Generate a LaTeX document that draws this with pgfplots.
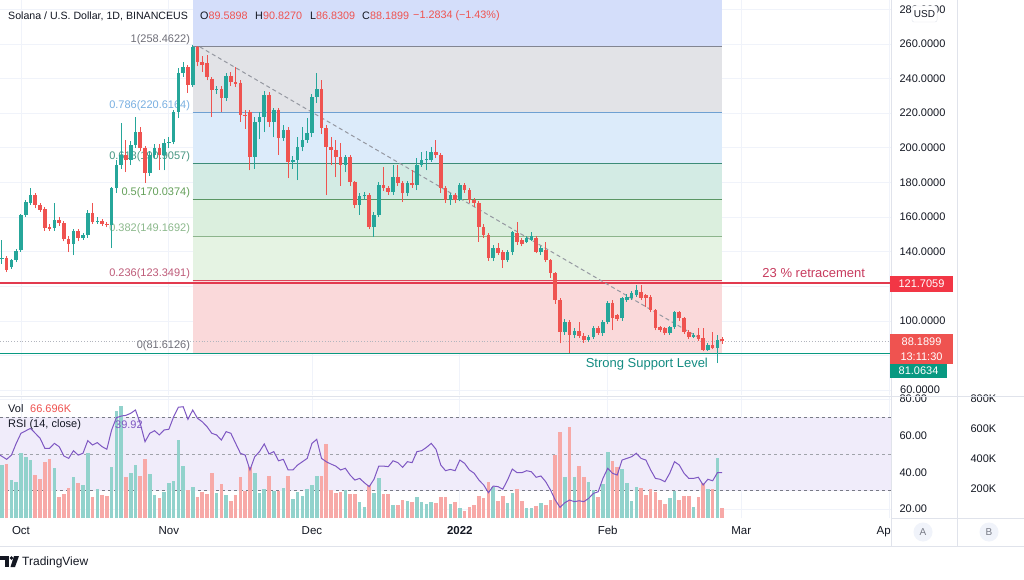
\documentclass[border=0pt]{standalone}
\usepackage{fontspec}
\setmainfont{Liberation Sans}
\usepackage{pgfplots}
\pgfplotsset{compat=1.18}
\usepackage{pgfplotstable}

\definecolor{upc}{RGB}{38,166,154}
\definecolor{dnc}{RGB}{239,83,80}
\definecolor{upv}{RGB}{146,210,204}
\definecolor{dnv}{RGB}{247,169,167}
\definecolor{txt}{RGB}{19,23,34}
\definecolor{gridc}{RGB}{240,243,250}
\definecolor{sepc}{RGB}{224,227,235}
\definecolor{rsic}{RGB}{126,87,194}
\definecolor{rsiband}{RGB}{240,236,250}
\definecolor{fibtop}{RGB}{212,222,250}
\definecolor{fibgray}{RGB}{226,227,231}
\definecolor{fibblue}{RGB}{220,235,250}
\definecolor{fibteal}{RGB}{211,235,228}
\definecolor{fibgreen}{RGB}{219,239,222}
\definecolor{fiblgreen}{RGB}{229,243,227}
\definecolor{fibpink}{RGB}{250,217,218}
\definecolor{lone}{RGB}{130,133,145}
\definecolor{lsev}{RGB}{110,160,210}
\definecolor{lsix}{RGB}{60,140,120}
\definecolor{lfive}{RGB}{90,150,100}
\definecolor{lthree}{RGB}{140,180,140}
\definecolor{ltwo}{RGB}{220,70,90}
\definecolor{tlone}{RGB}{110,110,120}
\definecolor{tlsev}{RGB}{120,175,225}
\definecolor{tlsix}{RGB}{70,150,130}
\definecolor{tlfive}{RGB}{100,160,90}
\definecolor{tlthree}{RGB}{140,185,140}
\definecolor{tltwo}{RGB}{190,90,120}
\definecolor{myredln}{RGB}{226,58,78}
\definecolor{mysuppln}{RGB}{8,153,129}
\definecolor{retxt}{RGB}{200,60,95}
\definecolor{sutxt}{RGB}{20,140,130}
\definecolor{tagred}{RGB}{242,54,69}
\definecolor{trendc}{RGB}{149,152,161}
\definecolor{dotc}{RGB}{178,181,190}
\definecolor{abc}{RGB}{120,123,134}

\pgfplotstableread{
d o h l c v
-4 135.5 147.0 133.0 136.5 356
-3 136.3 137.5 128.2 129.4 363
-2 131.1 136.0 130.0 135.2 255
-1 135.2 141.5 134.0 140.4 244
0 141.0 162.0 140.0 161.2 437
1 161.2 170.0 160.0 168.7 412
2 168.1 177.0 167.0 172.7 390
3 172.7 174.0 165.0 166.9 289
4 166.9 168.0 163.0 164.1 262
5 164.6 166.0 152.0 153.6 379
6 154.2 156.0 152.0 153.1 397
7 153.6 168.0 152.0 158.3 338
8 158.3 160.0 155.0 156.5 141
9 156.5 158.0 146.0 147.3 161
10 147.3 149.0 139.8 144.4 202
11 144.4 153.0 138.0 151.9 278
12 151.9 153.0 146.0 147.9 237
13 147.9 151.0 147.0 149.6 222
14 149.6 164.0 148.0 162.3 439
15 162.3 168.1 156.0 157.1 141
16 157.1 160.0 156.0 157.7 195
17 157.7 159.0 155.0 156.0 155
18 156.0 157.0 154.0 155.4 148
19 155.4 177.5 142.1 176.8 345
20 176.8 193.0 174.0 190.1 719
21 190.1 214.3 188.0 195.8 753
22 196.0 204.5 186.0 193.0 278
23 193.0 204.0 190.0 201.6 302
24 201.6 217.8 200.0 209.1 356
25 209.1 212.0 198.0 199.9 285
26 199.9 201.0 179.7 185.4 397
27 185.4 198.0 184.0 195.8 296
28 195.8 202.0 194.0 199.9 155
29 199.9 202.0 187.2 195.8 134
30 195.8 205.0 187.0 202.8 177
31 202.8 206.0 200.0 203.6 237
32 203.4 222.0 202.0 220.7 251
33 220.7 246.0 217.2 243.2 524
34 243.2 249.6 241.0 246.7 350
35 246.7 248.0 231.7 236.3 188
36 236.3 259.5 235.0 258.3 211
37 258.3 259.0 247.0 249.6 143
38 249.6 253.0 244.0 247.9 177
39 249.0 253.6 239.0 240.9 161
40 240.0 241.0 217.8 233.4 305
41 233.4 236.0 231.0 234.0 166
42 234.0 236.0 220.7 228.8 226
43 228.8 243.0 227.0 241.5 152
44 241.5 244.0 236.0 238.0 114
45 238.0 246.7 235.0 237.0 152
46 237.5 239.0 215.0 219.0 273
47 219.0 222.0 211.0 218.5 184
48 220.7 222.0 187.0 194.7 341
49 194.7 218.0 188.0 214.9 300
50 214.9 220.7 205.0 217.8 170
51 217.8 233.0 209.0 230.5 197
52 230.5 232.0 212.0 214.9 282
53 214.9 223.0 206.0 221.9 184
54 221.9 223.0 196.0 205.7 181
55 205.7 213.0 204.0 210.3 199
56 210.3 212.0 182.5 191.8 282
57 192.0 195.0 188.0 193.0 125
58 193.0 206.0 181.4 200.5 177
59 200.5 212.0 198.0 204.5 148
60 204.5 217.0 203.0 208.6 197
61 208.6 231.0 206.0 229.4 222
62 229.4 243.2 226.0 234.0 282
63 234.0 239.2 208.0 211.4 282
64 211.4 213.0 172.7 200.5 497
65 200.5 206.0 190.0 198.7 188
66 198.7 204.5 183.0 194.7 170
67 194.7 203.0 178.0 190.1 177
68 190.1 196.0 186.0 194.7 188
69 194.7 196.0 178.0 180.2 161
70 180.2 181.0 165.0 166.9 161
71 167.0 174.0 161.2 172.1 110
72 172.0 174.5 170.0 172.7 72
73 172.7 174.0 153.0 154.2 222
74 154.2 163.0 148.5 161.2 170
75 161.2 180.5 160.0 178.5 267
76 178.5 188.9 175.0 176.8 161
77 176.8 178.0 173.0 174.5 161
78 174.5 190.0 173.0 183.1 87
79 183.1 190.0 178.0 179.7 87
80 179.7 181.0 168.7 173.9 121
81 173.9 181.0 172.0 179.7 117
82 179.7 187.2 177.0 178.5 110
83 178.5 194.0 175.6 190.1 139
84 190.1 197.6 189.0 193.0 110
85 193.0 198.0 187.0 193.5 94
86 193.0 200.5 192.0 197.6 110
87 197.6 204.5 194.0 195.8 99
88 195.8 197.0 174.0 176.8 143
89 176.8 178.0 168.0 169.8 143
90 169.8 174.0 167.0 172.7 94
91 172.7 174.0 168.1 169.8 110
92 169.8 179.5 169.0 178.5 65
93 178.5 179.5 174.0 175.6 49
94 175.6 177.0 168.0 169.8 76
95 169.8 171.0 166.0 168.1 87
96 168.1 169.0 145.6 154.2 148
97 154.2 156.0 148.0 149.6 132
98 149.6 151.0 134.6 136.3 244
99 136.3 144.0 134.6 142.1 206
100 142.1 145.0 138.0 139.2 117
101 139.8 141.0 130.5 135.2 148
102 135.2 141.0 134.0 139.8 103
103 139.8 152.0 138.0 151.3 168
104 150.8 157.1 144.0 145.6 195
105 146.7 148.0 143.0 144.4 117
106 145.6 149.0 145.0 147.9 67
107 146.7 151.3 146.0 149.0 67
108 147.9 149.0 139.0 139.8 81
109 139.8 143.0 138.0 142.1 101
110 141.0 145.6 134.0 135.2 90
111 135.2 136.0 125.0 127.6 121
112 127.6 128.5 110.0 112.0 424
113 112.0 113.0 87.0 93.5 580
114 93.5 101.0 92.0 99.3 276
115 99.3 100.5 81.4 91.8 612
116 91.8 96.0 90.0 94.1 276
117 94.1 99.3 90.0 91.2 350
118 91.2 93.0 87.5 88.9 276
119 88.9 92.0 88.0 90.6 244
120 90.6 97.0 89.5 95.8 188
121 95.8 97.0 92.0 93.0 141
122 93.0 100.5 91.5 99.3 229
123 99.3 111.5 98.0 110.3 446
124 110.3 112.0 94.7 101.6 385
125 103.4 104.0 100.0 101.0 341
126 101.6 114.0 100.0 113.2 327
127 112.0 115.5 111.0 113.8 237
128 113.2 117.0 112.0 116.1 117
129 114.9 120.7 114.0 117.8 211
130 116.7 121.0 112.0 113.2 199
131 114.9 115.5 108.0 113.2 155
132 113.8 115.0 105.0 106.3 193
133 106.3 107.0 94.5 95.8 177
134 96.4 97.0 93.5 94.7 121
135 95.8 96.5 92.0 93.0 92
136 93.0 97.0 92.0 96.4 132
137 96.4 106.0 95.5 105.1 184
138 105.1 106.0 100.0 101.6 121
139 101.6 102.5 92.5 93.5 148
140 93.5 95.0 89.5 90.6 148
141 90.6 93.0 90.0 91.8 74
142 91.8 95.8 88.5 89.5 143
143 90.0 95.8 82.5 83.1 237
144 83.1 87.0 82.5 86.0 193
145 86.0 93.5 83.5 84.3 193
146 84.3 92.0 75.6 88.9 401
147 89.59 90.83 86.83 88.19 66.7
}\candles

\pgfplotstableread{
d r
-4.4 49.4
-3 47.1
-2 49.4
-1 55.8
0 61.3
2 64.0
3 61.3
4 58.6
5 53.1
6 53.1
7 55.8
8 54.0
9 48.9
10 47.6
11 51.8
12 49.4
13 50.4
14 57.3
15 54.9
16 56.2
17 54.0
18 52.6
19 63.1
20 69.8
21 70.7
22 71.1
23 72.2
24 74.0
25 66.7
26 56.7
27 61.3
28 62.7
29 60.4
30 63.1
31 63.5
32 70.3
33 75.5
34 75.8
35 68.9
36 74.0
37 69.5
38 67.6
39 64.9
40 61.3
41 60.4
42 57.6
43 62.2
44 61.3
45 55.8
46 50.4
47 49.4
48 41.3
49 48.5
50 51.3
51 55.5
52 50.0
53 51.3
54 46.3
55 47.1
56 41.3
57 41.3
58 44.0
59 45.8
60 47.6
61 55.8
62 58.0
63 47.6
64 45.8
65 44.5
66 43.4
67 41.3
68 42.2
69 38.5
70 35.8
71 36.7
72 34.3
73 32.2
74 36.2
75 43.4
76 43.4
77 43.1
78 46.3
79 45.3
80 42.7
81 45.8
82 45.3
83 51.3
84 51.8
85 53.6
86 55.8
87 52.6
88 44.0
89 40.9
90 41.6
91 40.9
92 46.7
93 44.9
94 41.3
95 39.5
96 35.8
97 33.1
98 28.9
99 32.5
100 32.2
101 30.8
102 35.8
103 41.8
104 39.8
105 39.8
106 40.9
107 40.3
108 37.3
109 38.0
110 34.9
111 30.4
112 24.9
113 20.9
114 23.4
115 24.9
116 24.0
117 24.5
118 24.0
119 25.8
120 28.5
121 29.4
122 36.7
123 42.2
124 39.5
125 38.5
126 46.7
127 47.6
128 48.5
129 50.4
130 47.6
131 46.7
132 41.3
133 36.7
134 36.2
135 34.9
136 39.5
137 45.8
138 44.0
139 39.5
140 36.7
141 36.7
142 37.3
143 33.1
144 36.2
145 35.4
146 39.8
147 39.9
}\rsi

\pgfplotsset{
  tvbase/.style={
    scale only axis, width=891pt,
    xmin=-4.40, xmax=182.39,
    axis line style={draw=none},
    tick style={draw=none},
    major tick length=0pt,
    grid style={gridc, line width=0.8pt},
    yticklabel pos=right,
    yticklabel style={anchor=west, xshift=5pt, text=txt, font=\fontsize{11}{13}\selectfont},
    xtick={0,31,61,92,123,151,182},
  },
  upcandle/.style={restrict expr to domain={\thisrow{c}-\thisrow{o}}{0:1000}},
  dncandle/.style={restrict expr to domain={\thisrow{c}-\thisrow{o}}{-1000:-0.00001}},
}

\begin{document}
\begin{tikzpicture}[font=\fontsize{11}{13}\selectfont]
\useasboundingbox (0,0) rectangle (1024pt,579pt);
\fill[white] (0,0) rectangle (1024pt,579pt);

% ---------- main price panel ----------
\begin{axis}[tvbase,
  at={(0pt,184pt)}, anchor=south west, height=395pt,
  ymin=57.2, ymax=285.4,
  xticklabels={},
  ytick={60,80,...,280},
  yticklabels={,,100.0000,,140.0000,160.0000,180.0000,200.0000,220.0000,240.0000,260.0000,280.0000},
  xmajorgrids, ymajorgrids,
  clip=false,
]
% fib zones
\fill[fibtop]   (axis cs:36,258.4622) rectangle (axis cs:147,285.4);
\fill[fibgray]  (axis cs:36,220.6164) rectangle (axis cs:147,258.4622);
\fill[fibblue]  (axis cs:36,190.9057) rectangle (axis cs:147,220.6164);
\fill[fibteal]  (axis cs:36,170.0374) rectangle (axis cs:147,190.9057);
\fill[fibgreen] (axis cs:36,149.1692) rectangle (axis cs:147,170.0374);
\fill[fiblgreen](axis cs:36,123.3491) rectangle (axis cs:147,149.1692);
\fill[fibpink]  (axis cs:36,81.6126) rectangle (axis cs:147,123.3491);
% fib levels
\draw[draw=lone]   (axis cs:36,258.4622) -- (axis cs:147,258.4622);
\draw[draw=lsev]   (axis cs:36,220.6164) -- (axis cs:147,220.6164);
\draw[draw=lsix]   (axis cs:36,190.9057) -- (axis cs:147,190.9057);
\draw[draw=lfive]  (axis cs:36,170.0374) -- (axis cs:147,170.0374);
\draw[draw=lthree] (axis cs:36,149.1692) -- (axis cs:147,149.1692);
\draw[draw=ltwo]   (axis cs:36,123.3491) -- (axis cs:147,123.3491);
\draw[draw=lone]   (axis cs:36,81.6126) -- (axis cs:147,81.6126);
% fib labels
\begin{scope}[every node/.style={anchor=south east, inner sep=1.5pt, xshift=-1pt, font=\fontsize{11}{13}\selectfont}]
\node[text=tlone]   at (axis cs:36,258.4622) {1(258.4622)};
\node[text=tlsev]   at (axis cs:36,220.6164) {0.786(220.6164)};
\node[text=tlsix]   at (axis cs:36,190.9057) {0.618(190.9057)};
\node[text=tlfive]  at (axis cs:36,170.0374) {0.5(170.0374)};
\node[text=tlthree] at (axis cs:36,149.1692) {0.382(149.1692)};
\node[text=tltwo]   at (axis cs:36,123.3491) {0.236(123.3491)};
\node[text=tlone]   at (axis cs:36,81.6126) {0(81.6126)};
\end{scope}
% user lines
\draw[draw=myredln, line width=1.8pt] (axis cs:-4.40,121.7059) -- (axis cs:182.39,121.7059);
\draw[draw=mysuppln, line width=1.3pt] (axis cs:-4.40,81.0634) -- (axis cs:182.39,81.0634);
\draw[draw=dotc, dotted, line width=0.8pt] (axis cs:-4.40,88.1899) -- (axis cs:182.39,88.1899);
\draw[draw=trendc, dash pattern=on 4pt off 3pt, line width=1pt] (axis cs:37.5,258.3) -- (axis cs:143.4,88.3);
% candles: wicks
\addplot[upc, line width=1pt, quiver={u=0, v=\thisrow{h}-\thisrow{l}}, upcandle] table[x=d, y=l] {\candles};
\addplot[dnc, line width=1pt, quiver={u=0, v=\thisrow{h}-\thisrow{l}}, dncandle] table[x=d, y=l] {\candles};
% candles: bodies
\addplot[upc, line width=3.6pt, quiver={u=0, v=\thisrow{c}-\thisrow{o}}, upcandle] table[x=d, y=o] {\candles};
\addplot[dnc, line width=3.6pt, quiver={u=0, v=\thisrow{c}-\thisrow{o}}, dncandle] table[x=d, y=o] {\candles};
% annotations
\node[text=retxt, font=\fontsize{13}{15}\selectfont] at (axis cs:166.2,127.7) {23 \% retracement};
\node[text=sutxt, font=\fontsize{13}{15}\selectfont] at (axis cs:131.2,75.1) {Strong Support Level};
\end{axis}

% ---------- lower panel: RSI band ----------
\begin{axis}[tvbase,
  at={(0pt,61pt)}, anchor=south west, height=121pt,
  ymin=15.09, ymax=81.09,
  ytick={20,40,60,80},
  yticklabels={20.00,40.00,60.00,80.00},
  xticklabels={Oct,Nov,Dec,\textbf{2022},Feb,Mar,},
  xticklabel style={text=txt, yshift=-5pt, font=\fontsize{11.5}{13}\selectfont},
  xmajorgrids, ymajorgrids,
]
\fill[rsiband] (axis cs:-4.40,30) rectangle (axis cs:182.39,70);
\draw[draw=abc, dash pattern=on 3pt off 3pt, line width=0.8pt] (axis cs:-4.40,70) -- (axis cs:182.39,70);
\draw[draw=abc!70, dash pattern=on 3pt off 3pt, line width=0.8pt] (axis cs:-4.40,50) -- (axis cs:182.39,50);
\draw[draw=abc, dash pattern=on 3pt off 3pt, line width=0.8pt] (axis cs:-4.40,30) -- (axis cs:182.39,30);
\end{axis}

% ---------- lower panel: volume ----------
\begin{axis}[tvbase,
  at={(0pt,61pt)}, anchor=south west, height=121pt,
  ymin=0, ymax=813.4,
  ytick={200,400,600,800},
  yticklabels={200K,400K,600K,800K},
  yticklabel style={anchor=west, xshift=71pt, text=txt, font=\fontsize{11}{13}\selectfont},
  xticklabels={},
]
\addplot[ycomb, upv, line width=3.6pt, upcandle] table[x=d, y=v] {\candles};
\addplot[ycomb, dnv, line width=3.6pt, dncandle] table[x=d, y=v] {\candles};
\end{axis}

% ---------- lower panel: RSI line ----------
\begin{axis}[tvbase,
  at={(0pt,61pt)}, anchor=south west, height=121pt,
  ymin=15.09, ymax=81.09, hide axis,
]
\addplot[rsic, line width=1pt] table[x=d, y=r] {\rsi};
\end{axis}

% ---------- frame and decorations (pixel coordinates) ----------
\begin{scope}[x=1pt, y=-1pt, yshift=579pt]
% 60.0000 label, cut by the pane border as in the original
\begin{scope}
\clip (892,375) rectangle (956,395.5);
\node[anchor=west, inner sep=0pt, text=txt] at (900,390) {60.0000};
\end{scope}
\draw[draw=sepc, line width=0.8pt] (0,396) -- (1024,396);
\draw[draw=sepc, line width=0.8pt] (0,546) -- (1024,546);
\draw[draw=sepc, line width=0.8pt] (891,518) -- (1024,518);
\draw[draw=sepc, line width=0.8pt] (891,0) -- (891,546);
\draw[draw=sepc, line width=0.8pt] (957,0) -- (957,546);
% Apr cut label
\node[anchor=east, text=txt, inner sep=0pt, font=\fontsize{11.5}{13}\selectfont] at (891,532) {Ap};
% USD box
\node[fill=white, draw=sepc, rounded corners=2pt, text=txt, inner sep=2pt, minimum width=24pt, minimum height=16pt, font=\fontsize{10}{12}\selectfont] at (924.5,14) {USD};
% price tags
\node[fill=tagred, text=white, minimum width=63pt, minimum height=16pt, inner sep=0pt] at (921.5,284) {121.7059};
\node[fill=dnc, text=white, minimum width=63pt, minimum height=30pt, inner sep=0pt, align=center, font=\fontsize{11}{15}\selectfont] at (921.5,349) {88.1899\\13:11:30};
\node[fill=mysuppln, text=white, minimum width=57pt, minimum height=14pt, inner sep=0pt] at (918.5,371) {81.0634};
% A / B buttons
\fill[gridc] (923,532) circle (9.5);
\node[text=abc, font=\fontsize{10}{12}\selectfont] at (923,532) {A};
\fill[gridc] (989,532) circle (9.5);
\node[text=abc, font=\fontsize{10}{12}\selectfont] at (989,532) {B};
% header
\node[anchor=west, inner sep=0pt, text=txt, font=\fontsize{10.6}{13}\selectfont] at (8,16) {Solana / U.S. Dollar, 1D, BINANCEUS};
\begin{scope}[every node/.style={anchor=west, inner sep=0pt, font=\fontsize{10.8}{13}\selectfont}]
\node at (200,16) {\textcolor{txt}{O}\textcolor{dnc}{89.5898}};
\node at (255,16) {\textcolor{txt}{H}\textcolor{dnc}{90.8270}};
\node at (310,16) {\textcolor{txt}{L}\textcolor{dnc}{86.8309}};
\node at (362,16) {\textcolor{txt}{C}\textcolor{dnc}{88.1899}};
\node[text=dnc] at (413,16) {−1.2834 (−1.43\%)};
\end{scope}
% lower pane titles
\node[anchor=west, inner sep=0pt, text=txt] at (8,409) {Vol};
\node[anchor=west, inner sep=0pt, text=dnc] at (30,409) {66.696K};
\node[anchor=west, inner sep=0pt, text=txt] at (8,425) {RSI (14, close)};
\node[anchor=west, inner sep=0pt, text=rsic] at (115,425) {39.92};
% TradingView logo
\fill[txt] (0,556) rectangle (8.5,559.5);
\fill[txt] (4.5,556) rectangle (8.5,567);
\fill[txt] (11.5,558) circle (1.8);
\fill[txt] (14,556) -- (19,556) -- (15,567) -- (10.5,567) -- cycle;
\node[anchor=west, inner sep=0pt, text=txt, font=\fontsize{12}{14}\selectfont] at (22,562) {TradingView};
\end{scope}
\end{tikzpicture}
\end{document}
